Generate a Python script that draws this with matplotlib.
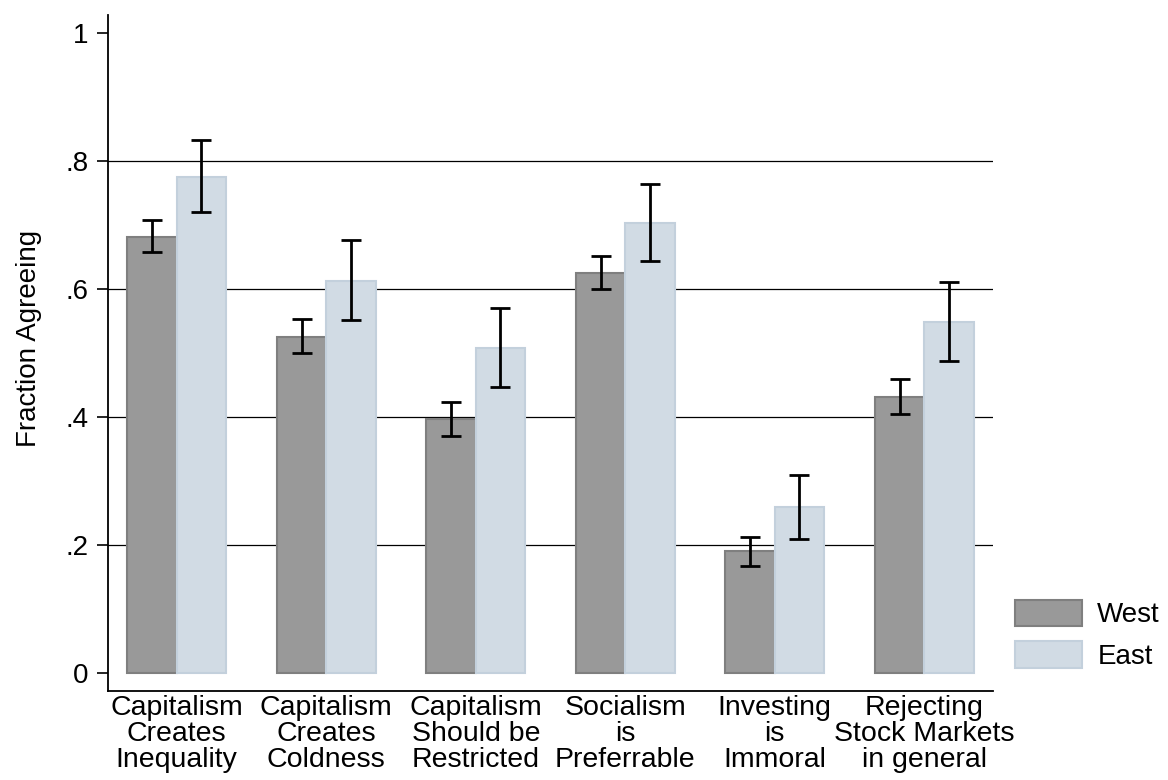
import matplotlib.pyplot as plt
import numpy as np

plt.rcParams['font.family'] = ['Liberation Sans', 'DejaVu Sans']

# survey items and estimates
categories = ["Capitalism\nCreates\nInequality", "Capitalism\nCreates\nColdness",
              "Capitalism\nShould be\nRestricted", "Socialism\nis\nPreferrable",
              "Investing\nis\nImmoral", "Rejecting\nStock Markets\nin general"]
west = [0.681, 0.525, 0.397, 0.625, 0.190, 0.432]
west_lo = [0.658, 0.500, 0.370, 0.600, 0.168, 0.405]
west_hi = [0.707, 0.553, 0.423, 0.652, 0.212, 0.459]
east = [0.775, 0.613, 0.508, 0.703, 0.260, 0.548]
east_lo = [0.720, 0.552, 0.447, 0.643, 0.210, 0.487]
east_hi = [0.833, 0.676, 0.570, 0.764, 0.310, 0.611]
yticks = [0, 0.2, 0.4, 0.6, 0.8, 1]
ytick_labels = ["0", ".2", ".4", ".6", ".8", "1"]

fig = plt.figure(figsize=(11.68, 7.8), dpi=100)
# plot region in pixels: x 108..993, y 15..691 (from top)
ax = fig.add_axes([108 / 1168, (780 - 691) / 780, (993 - 108) / 1168, (691 - 15) / 780])

x = np.arange(len(categories))
w = 0.33
ax.bar(x - w / 2, west, w, color="#999999", edgecolor="#7f7f7f", linewidth=1.5,
       label="West", zorder=2)
ax.bar(x + w / 2, east, w, color="#d1dbe4", edgecolor="#c3d0dc", linewidth=1.5,
       label="East", zorder=2)

west_err = [np.array(west) - np.array(west_lo), np.array(west_hi) - np.array(west)]
east_err = [np.array(east) - np.array(east_lo), np.array(east_hi) - np.array(east)]
ax.errorbar(x - w / 2, west, yerr=west_err, fmt="none", ecolor="black",
            elinewidth=2, capsize=7, capthick=2, zorder=3)
ax.errorbar(x + w / 2, east, yerr=east_err, fmt="none", ecolor="black",
            elinewidth=2, capsize=7, capthick=2, zorder=3)

for yv in yticks[1:-1]:
    ax.axhline(yv, color="black", linewidth=0.9, zorder=1)

ax.set_xlim(-0.46, 5.46)
ax.set_ylim(-0.028, 1.028)
ax.set_yticks(yticks)
ax.set_yticklabels(ytick_labels, fontsize=20)
ax.set_xticks(x)
ax.set_xticklabels(categories, fontsize=20.5, linespacing=1.0)
ax.tick_params(axis="x", length=0, pad=3)
ax.tick_params(axis="y", length=8, width=1.2, pad=6)
ax.set_ylabel("Fraction Agreeing", fontsize=20)
ax.yaxis.set_label_coords(-0.0746, 0.522)

for s in ["top", "right"]:
    ax.spines[s].set_visible(False)
ax.spines["left"].set_linewidth(1.3)
ax.spines["bottom"].set_linewidth(1.3)

ax.legend(loc="lower left", bbox_to_anchor=(0.997, -0.0055), frameon=False,
          fontsize=20, handlelength=2.4, handleheight=1.1, labelspacing=0.45,
          borderaxespad=0.5, handletextpad=0.55)

fig.savefig("out.png", dpi=100)
